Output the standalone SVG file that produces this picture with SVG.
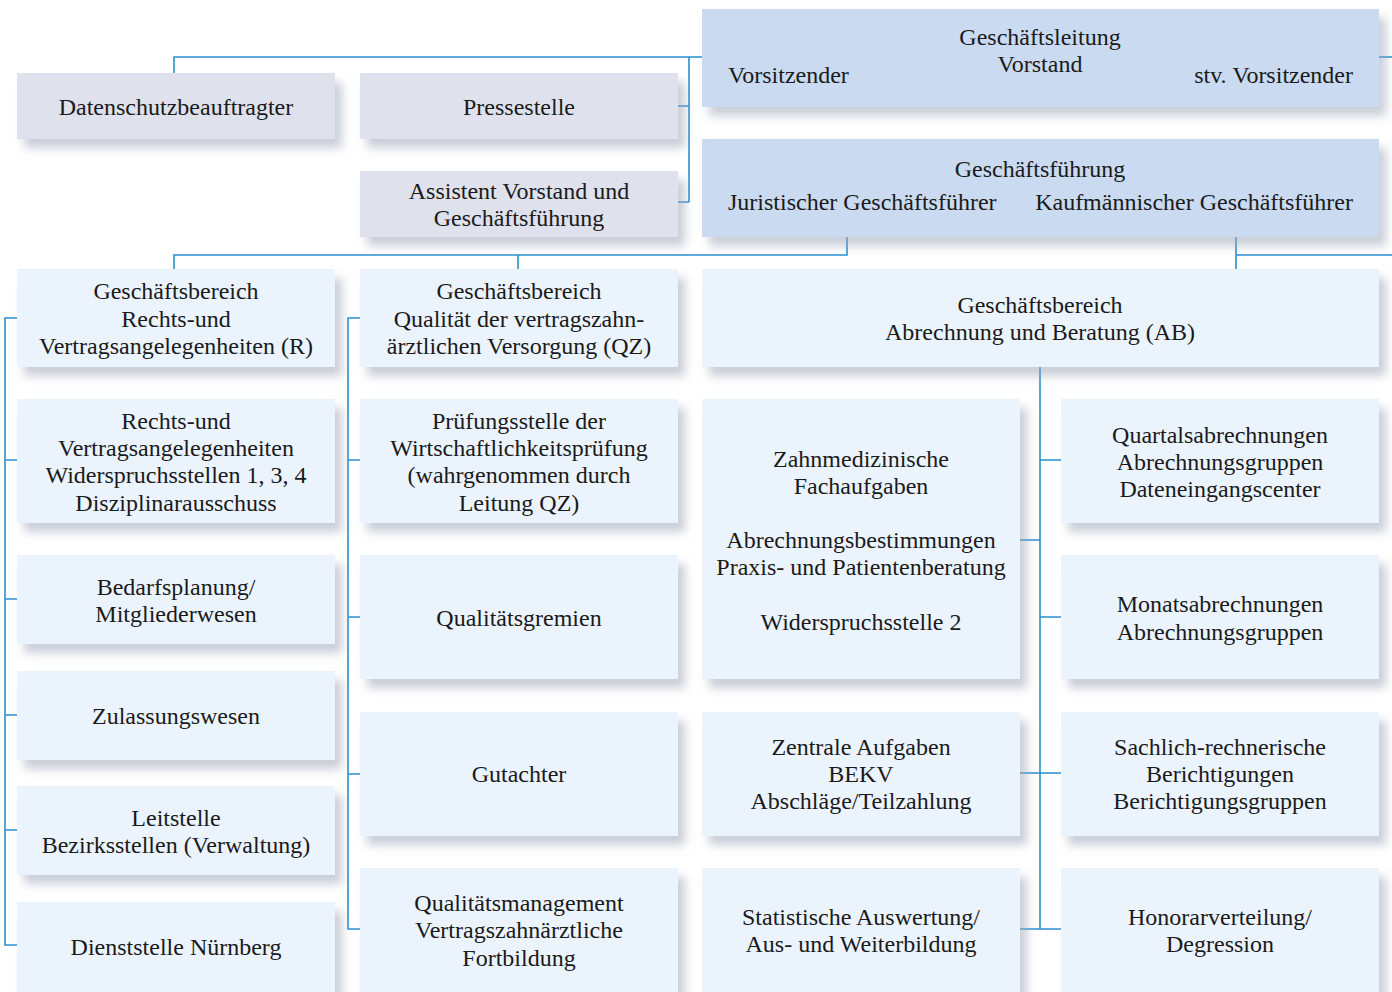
<svg xmlns="http://www.w3.org/2000/svg" width="1392" height="992" viewBox="0 0 1392 992">
<style>
.g{fill:#dfe1ec}
.h{fill:#cadaf0}
.l{fill:#ebf3fd}
text{font-family:"Liberation Serif","Times New Roman",serif;font-size:24px;fill:#1a1a1a;text-anchor:middle}
.st{text-anchor:start}
.en{text-anchor:end}
.c{fill:none;stroke:#2a90d0;stroke-width:1.6}
</style>
<defs>
<filter id="sh" x="-10%" y="-20%" width="130%" height="150%">
<feDropShadow dx="7" dy="9" stdDeviation="5" flood-color="#9ea6b8" flood-opacity="0.55"/>
</filter>
</defs>
<rect width="1392" height="992" fill="#ffffff"/>
<g id="connectors" class="c">
<path d="M174 73V57H702M689 57V202M678 106H689M678 202H689"/>
<path d="M1379 57H1392"/>
<path d="M174 269V255H847V237M518 255V269"/>
<path d="M1236 237V269M1236 255H1392"/>
<path d="M17 318H5V945H17M5 460H17M5 599H17M5 715H17M5 830H17"/>
<path d="M360 318H348V929H360M348 460H360M348 617H360M348 774H360"/>
<path d="M1040 367V929M1020 540H1040M1020 773H1061M1020 929H1061M1040 460H1061M1040 617H1061"/>
</g>
<g transform="translate(0,-1)">
<g id="n-datenschutz"><rect class="g" x="17" y="74" width="318" height="66" filter="url(#sh)"/><text x="176" y="116">Datenschutzbeauftragter</text></g>
<g id="n-presse"><rect class="g" x="360" y="74" width="318" height="66" filter="url(#sh)"/><text x="519" y="116">Pressestelle</text></g>
<g id="n-assistent"><rect class="g" x="360" y="172" width="318" height="66" filter="url(#sh)"/><text x="519" y="200">Assistent Vorstand und</text><text x="519" y="227">Geschäftsführung</text></g>
<g id="n-leitung"><rect class="h" x="702" y="10" width="677" height="98" filter="url(#sh)"/><text x="1040" y="46">Geschäftsleitung</text><text x="1040" y="73">Vorstand</text><text class="st" x="728" y="84">Vorsitzender</text><text class="en" x="1353" y="84">stv. Vorsitzender</text></g>
<g id="n-fuehrung"><rect class="h" x="702" y="140" width="677" height="98" filter="url(#sh)"/><text x="1040" y="178">Geschäftsführung</text><text class="st" x="728" y="211">Juristischer Geschäftsführer</text><text class="en" x="1353" y="211">Kaufmännischer Geschäftsführer</text></g>
<g id="n-gb-r"><rect class="l" x="17" y="270" width="318" height="98" filter="url(#sh)"/><text x="176" y="300">Geschäftsbereich</text><text x="176" y="328">Rechts-und</text><text x="176" y="355">Vertragsangelegenheiten (R)</text></g>
<g id="n-gb-qz"><rect class="l" x="360" y="270" width="318" height="98" filter="url(#sh)"/><text x="519" y="300">Geschäftsbereich</text><text x="519" y="328">Qualität der vertragszahn-</text><text x="519" y="355">ärztlichen Versorgung (QZ)</text></g>
<g id="n-gb-ab"><rect class="l" x="702" y="270" width="677" height="98" filter="url(#sh)"/><text x="1040" y="314">Geschäftsbereich</text><text x="1040" y="341">Abrechnung und Beratung (AB)</text></g>
<g id="n-rv"><rect class="l" x="17" y="400" width="318" height="124" filter="url(#sh)"/><text x="176" y="430">Rechts-und</text><text x="176" y="457">Vertragsangelegenheiten</text><text x="176" y="484">Widerspruchsstellen 1, 3, 4</text><text x="176" y="512">Disziplinarausschuss</text></g>
<g id="n-bedarf"><rect class="l" x="17" y="556" width="318" height="89" filter="url(#sh)"/><text x="176" y="596">Bedarfsplanung/</text><text x="176" y="623">Mitgliederwesen</text></g>
<g id="n-zulassung"><rect class="l" x="17" y="672" width="318" height="89" filter="url(#sh)"/><text x="176" y="725">Zulassungswesen</text></g>
<g id="n-leitstelle"><rect class="l" x="17" y="787" width="318" height="89" filter="url(#sh)"/><text x="176" y="827">Leitstelle</text><text x="176" y="854">Bezirksstellen (Verwaltung)</text></g>
<g id="n-nuernberg"><rect class="l" x="17" y="903" width="318" height="100" filter="url(#sh)"/><text x="176" y="956">Dienststelle Nürnberg</text></g>
<g id="n-pruefung"><rect class="l" x="360" y="400" width="318" height="124" filter="url(#sh)"/><text x="519" y="430">Prüfungsstelle der</text><text x="519" y="457">Wirtschaftlichkeitsprüfung</text><text x="519" y="484">(wahrgenommen durch</text><text x="519" y="512">Leitung QZ)</text></g>
<g id="n-gremien"><rect class="l" x="360" y="556" width="318" height="124" filter="url(#sh)"/><text x="519" y="627">Qualitätsgremien</text></g>
<g id="n-gutachter"><rect class="l" x="360" y="713" width="318" height="124" filter="url(#sh)"/><text x="519" y="783">Gutachter</text></g>
<g id="n-qm"><rect class="l" x="360" y="869" width="318" height="134" filter="url(#sh)"/><text x="519" y="912">Qualitätsmanagement</text><text x="519" y="939">Vertragszahnärztliche</text><text x="519" y="967">Fortbildung</text></g>
<g id="n-zahnmed"><rect class="l" x="702" y="400" width="318" height="280" filter="url(#sh)"/><text x="861" y="468">Zahnmedizinische</text><text x="861" y="495">Fachaufgaben</text><text x="861" y="549">Abrechnungsbestimmungen</text><text x="861" y="576">Praxis- und Patientenberatung</text><text x="861" y="631">Widerspruchsstelle 2</text></g>
<g id="n-zentrale"><rect class="l" x="702" y="713" width="318" height="124" filter="url(#sh)"/><text x="861" y="756">Zentrale Aufgaben</text><text x="861" y="783">BEKV</text><text x="861" y="810">Abschläge/Teilzahlung</text></g>
<g id="n-statistik"><rect class="l" x="702" y="869" width="318" height="134" filter="url(#sh)"/><text x="861" y="926">Statistische Auswertung/</text><text x="861" y="953">Aus- und Weiterbildung</text></g>
<g id="n-quartal"><rect class="l" x="1061" y="400" width="318" height="124" filter="url(#sh)"/><text x="1220" y="444">Quartalsabrechnungen</text><text x="1220" y="471">Abrechnungsgruppen</text><text x="1220" y="498">Dateneingangscenter</text></g>
<g id="n-monat"><rect class="l" x="1061" y="556" width="318" height="124" filter="url(#sh)"/><text x="1220" y="613">Monatsabrechnungen</text><text x="1220" y="641">Abrechnungsgruppen</text></g>
<g id="n-sachlich"><rect class="l" x="1061" y="713" width="318" height="124" filter="url(#sh)"/><text x="1220" y="756">Sachlich-rechnerische</text><text x="1220" y="783">Berichtigungen</text><text x="1220" y="810">Berichtigungsgruppen</text></g>
<g id="n-honorar"><rect class="l" x="1061" y="869" width="318" height="134" filter="url(#sh)"/><text x="1220" y="926">Honorarverteilung/</text><text x="1220" y="953">Degression</text></g>
</g>
</svg>
